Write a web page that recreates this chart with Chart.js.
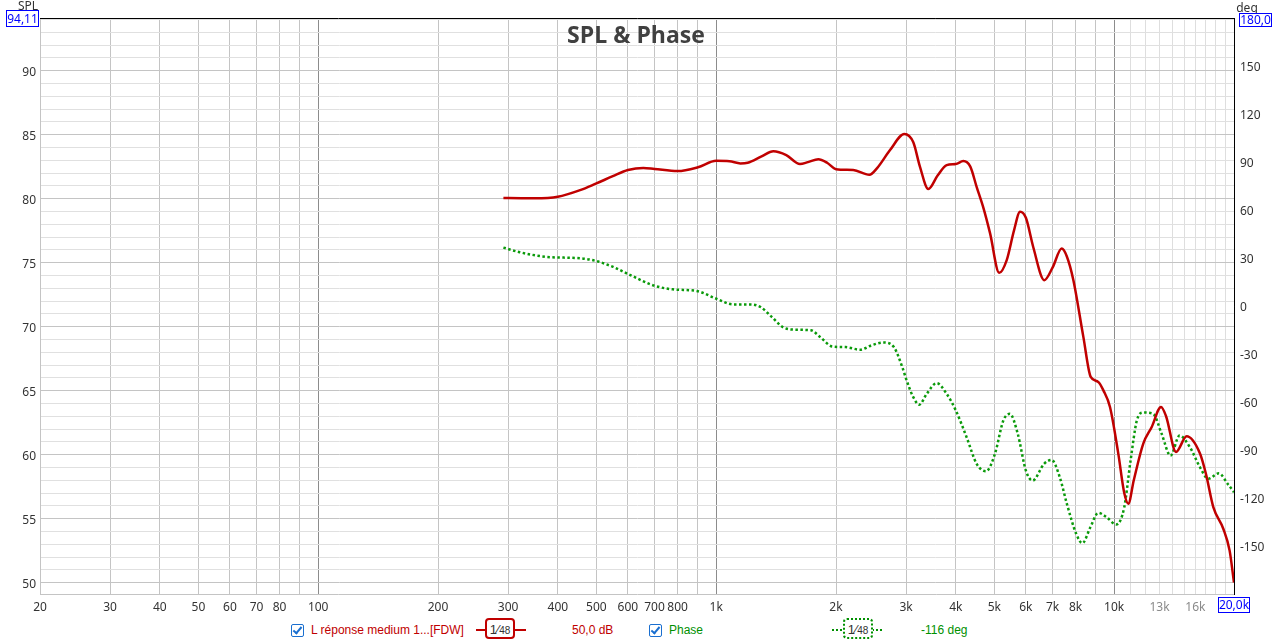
<!DOCTYPE html>
<html lang="fr">
<head>
  <meta charset="UTF-8">
  <title>SPL & Phase</title>
  <script src="https://cdn.jsdelivr.net/npm/chart.js"></script>
  <style>
    body {
      margin: 0;
      background: #ffffff;
      font-family: "Liberation Sans", Arial, sans-serif;
      font-size: 12px;
      overflow: hidden;
    }

    .wrap {
      position: relative;
      width: 1286px;
      height: 642px;
    }

    canvas {
      position: absolute;
      left: 0;
      top: 0;
    }

    .lg {
      position: absolute;
      top: 623px;
      line-height: 14px;
      white-space: nowrap;
    }

    .cb {
      position: absolute;
      top: 624px;
      width: 11px;
      height: 11px;
      border: 1px solid #1a6fd0;
      border-radius: 2px;
      background: #fff;
    }

    .cb::after {
      content: "";
      position: absolute;
      left: 3px;
      top: 0px;
      width: 3px;
      height: 7px;
      border: solid #1a6fd0;
      border-width: 0 2px 2px 0;
      transform: rotate(40deg);
    }

    .red { color: #c00000; }
    .green { color: #009000; }

    .sym {
      position: absolute;
      top: 629px;
      height: 0;
    }

    .badge {
      position: absolute;
      top: 618px;
      height: 17px;
      background: #fff;
      border-radius: 4px;
      font-size: 13px;
      line-height: 19px;
      text-align: center;
      color: #333;
    }

    .badge small { font-size: 10px; }
  </style>
</head>
<body>
  <div class="wrap">
    <canvas id="chart" width="1286" height="614"></canvas>

    <div class="cb" style="left:291px"></div>
    <div class="lg red" style="left:311px">L réponse medium 1...[FDW]</div>
    <div class="sym" style="left:476px;width:50px;border-top:2px solid #c00000"></div>
    <div class="badge" style="left:485px;width:26px;border:2px solid #c00000">1⁄<small>48</small></div>
    <div class="lg red" style="left:572px">50,0 dB</div>

    <div class="cb" style="left:649px"></div>
    <div class="lg green" style="left:669px">Phase</div>
    <div class="sym" style="left:832px;width:50px;border-top:2px dotted #009000"></div>
    <div class="badge" style="left:843px;width:26px;border:2px dotted #009000">1⁄<small>48</small></div>
    <div class="lg green" style="left:921px">-116 deg</div>
  </div>

  <script>
    // fréquences et niveaux
    const splFreq = [292, 300, 350, 400, 455, 500, 550, 600, 656, 700, 800, 900, 1000, 1080, 1150, 1200, 1300, 1392, 1500, 1624, 1700, 1806, 1900, 2000, 2210, 2426, 2540, 2734, 2970, 3128, 3250, 3412, 3600, 3794, 4000, 4177, 4350, 4514, 4700, 4876, 5142, 5370, 5600, 5800, 6000, 6262, 6676, 7000, 7380, 7600, 7897, 8366, 8730, 9120, 9400, 9760, 10240, 10600, 10852, 11200, 11832, 12425, 13112, 13500, 14300, 15208, 16428, 17000, 17744, 18798, 19500, 20000];
    const splValues = [80.05, 80.05, 80.02, 80.14, 80.66, 81.19, 81.75, 82.23, 82.40, 82.32, 82.15, 82.45, 82.95, 82.92, 82.75, 82.8, 83.3, 83.7, 83.4, 82.7, 82.85, 83.08, 82.8, 82.3, 82.23, 81.86, 82.4, 83.79, 85.05, 84.4, 82.5, 80.75, 81.8, 82.62, 82.7, 82.93, 82.5, 80.9, 79.2, 77.3, 74.2, 75.2, 77.5, 78.97, 78.5, 76.2, 73.63, 74.6, 76.1, 75.5, 73.63, 69.2, 66.07, 65.68, 65.0, 63.72, 60.08, 57.0, 56.17, 58.0, 60.86, 62.16, 63.72, 63.0, 60.21, 61.43, 60.08, 58.5, 55.9, 54.21, 52.5, 50.0];

    const phaseFreq = [292, 321, 375, 455, 500, 551, 610, 695, 778, 893, 1000, 1104, 1222, 1294, 1375, 1480, 1585, 1730, 1825, 1958, 2113, 2300, 2455, 2630, 2795, 2935, 3000, 3128, 3238, 3380, 3580, 3794, 4000, 4258, 4514, 4766, 5016, 5266, 5469, 5724, 6000, 6240, 6663, 6966, 7300, 7606, 8030, 8316, 8713, 9120, 9581, 10120, 10600, 10994, 11400, 11832, 12530, 13160, 13850, 14600, 15500, 16430, 17240, 18330, 19290, 20000];
    const phaseValues = [36.5, 33.6, 30.7, 29.8, 28.1, 24.4, 19.2, 12.9, 10.4, 9.4, 4.6, 1.0, 1.0, -0.7, -6.5, -13.6, -14.8, -15.2, -19.4, -25.3, -25.7, -27.3, -24.6, -22.8, -25.7, -38.2, -45.5, -57, -61.7, -54.9, -48.2, -54.9, -65.3, -82, -98.7, -103.3, -92.4, -71.6, -67.4, -79.9, -102.9, -109.1, -98.7, -96.2, -107, -123.7, -142.5, -148.3, -138.3, -129.3, -132.1, -136.6, -125.8, -96.6, -71.6, -66.6, -67.4, -79.9, -93.5, -81, -88.3, -100.8, -108, -104.6, -111.2, -116.4];

    // graduations
    const freqGrid = [20, 30, 40, 50, 60, 70, 80, 90, 100, 200, 300, 400, 500, 600, 700, 800, 900, 1000, 2000, 3000, 4000, 5000, 6000, 7000, 8000, 9000, 10000, 11000, 12000, 13000, 14000, 15000, 16000, 17000, 18000, 19000, 20000];
    const freqLabels = {20: '20', 30: '30', 40: '40', 50: '50', 60: '60', 70: '70', 80: '80', 100: '100', 200: '200', 300: '300', 400: '400', 500: '500', 600: '600', 700: '700', 800: '800', 1000: '1k', 2000: '2k', 3000: '3k', 4000: '4k', 5000: '5k', 6000: '6k', 7000: '7k', 8000: '8k', 10000: '10k', 13000: '13k', 16000: '16k'};
    const splTicks = [50, 51, 52, 53, 54, 55, 56, 57, 58, 59, 60, 61, 62, 63, 64, 65, 66, 67, 68, 69, 70, 71, 72, 73, 74, 75, 76, 77, 78, 79, 80, 81, 82, 83, 84, 85, 86, 87, 88, 89, 90, 91, 92, 93, 94];
    const degTicks = [-180, -150, -120, -90, -60, -30, 0, 30, 60, 90, 120, 150, 180];

    const splMin = 49.11, splMax = 94.11;

    Chart.defaults.font.family = '"Noto Sans", Arial, sans-serif';
    Chart.defaults.font.size = 12;
    Chart.defaults.color = '#333';

    const splData = splFreq.map((f, i) => ({ x: f, y: splValues[i] }));
    const phaseData = phaseFreq.map((f, i) => ({ x: f, y: phaseValues[i] }));

    function box(ctx, x, y, w, h, text) {
      ctx.fillStyle = '#fff';
      ctx.fillRect(x, y, w, h);
      ctx.strokeStyle = '#0000ff';
      ctx.lineWidth = 1;
      ctx.strokeRect(x + 0.5, y + 0.5, w - 1, h - 1);
      ctx.fillStyle = '#0000ff';
      ctx.textAlign = 'center';
      ctx.textBaseline = 'middle';
      ctx.fillText(text, x + w / 2, y + h / 2 + 1);
    }

    const decorPlugin = {
      id: 'decor',
      afterDraw(chart) {
        const ctx = chart.ctx;
        const a = chart.chartArea;
        ctx.save();

        // bordures haute et droite
        ctx.strokeStyle = '#000';
        ctx.lineWidth = 1;
        ctx.beginPath();
        ctx.moveTo(a.left, a.top + 0.5);
        ctx.lineTo(a.right + 0.5, a.top + 0.5);
        ctx.lineTo(a.right + 0.5, a.bottom);
        ctx.stroke();

        // titre
        ctx.fillStyle = '#404040';
        ctx.font = 'bold 23px "Open Sans", "Noto Sans", sans-serif';
        ctx.textAlign = 'center';
        ctx.textBaseline = 'middle';
        ctx.fillText('SPL & Phase', 636, 36);

        // noms des axes
        ctx.font = '12px "Noto Sans", sans-serif';
        ctx.fillStyle = '#333';
        ctx.textBaseline = 'alphabetic';
        ctx.fillText('SPL', 28, 10);
        ctx.fillText('deg', 1247, 12);

        box(ctx, 6, 10, 33, 17, '94,11');
        box(ctx, 1239, 13, 33, 14, '180,0');
        box(ctx, 1218, 597, 32, 16, '20,0k');
        ctx.restore();
      }
    };

    new Chart(document.getElementById('chart').getContext('2d'), {
      type: 'line',
      data: {
        datasets: [
          {
            label: 'L réponse medium 1...[FDW]',
            data: splData,
            yAxisID: 'y',
            borderColor: '#c00000',
            borderWidth: 2.5,
            pointRadius: 0,
            cubicInterpolationMode: 'monotone',
            fill: false
          },
          {
            label: 'Phase',
            data: phaseData,
            yAxisID: 'y2',
            borderColor: '#0a9a0a',
            borderWidth: 2.5,
            borderDash: [2.5, 2.5],
            pointRadius: 0,
            cubicInterpolationMode: 'monotone',
            fill: false
          }
        ]
      },
      options: {
        responsive: false,
        animation: false,
        layout: { padding: { top: 18, left: 0, right: 0, bottom: 0 } },
        plugins: {
          legend: { display: false },
          title: { display: false },
          tooltip: { enabled: false }
        },
        scales: {
          x: {
            type: 'logarithmic',
            min: 20,
            max: 20000,
            afterBuildTicks: (s) => { s.ticks = freqGrid.map(v => ({ value: v })); },
            afterFit: (s) => { s.height = 20; },
            ticks: {
              autoSkip: false,
              maxRotation: 0,
              padding: 6,
              callback: (v) => freqLabels[v] || '',
              color: (c) => (c.tick && (c.tick.value === 13000 || c.tick.value === 16000)) ? '#8a8a8a' : '#333'
            },
            grid: {
              drawTicks: false,
              color: (c) => {
                const v = c.tick ? c.tick.value : 0;
                if (v === 100 || v === 1000 || v === 10000) return '#8c8c8c';
                if (v > 10000 && v < 20000) return '#dedede';
                return '#c4c4c4';
              }
            },
            border: { color: '#c4c4c4' }
          },
          y: {
            position: 'left',
            min: splMin,
            max: splMax,
            afterBuildTicks: (s) => { s.ticks = splTicks.map(v => ({ value: v })); },
            afterFit: (s) => { s.width = 40; },
            ticks: {
              autoSkip: false,
              padding: 4,
              labelOffset: 2,
              callback: (v) => (v % 5 === 0 ? String(v) : '')
            },
            grid: {
              drawTicks: false,
              color: (c) => (c.tick && c.tick.value % 5 === 0) ? '#c4c4c4' : '#e0e0e0'
            },
            border: { color: '#c4c4c4' }
          },
          y2: {
            position: 'right',
            min: -180,
            max: 180,
            afterBuildTicks: (s) => { s.ticks = degTicks.map(v => ({ value: v })); },
            afterFit: (s) => { s.width = 52; },
            ticks: {
              autoSkip: false,
              padding: 6,
              labelOffset: 2,
              callback: (v) => (Math.abs(v) === 180 ? '' : String(v))
            },
            grid: { display: false, drawTicks: false },
            border: { color: '#000' }
          }
        }
      },
      plugins: [decorPlugin]
    });
  </script>
</body>
</html>
